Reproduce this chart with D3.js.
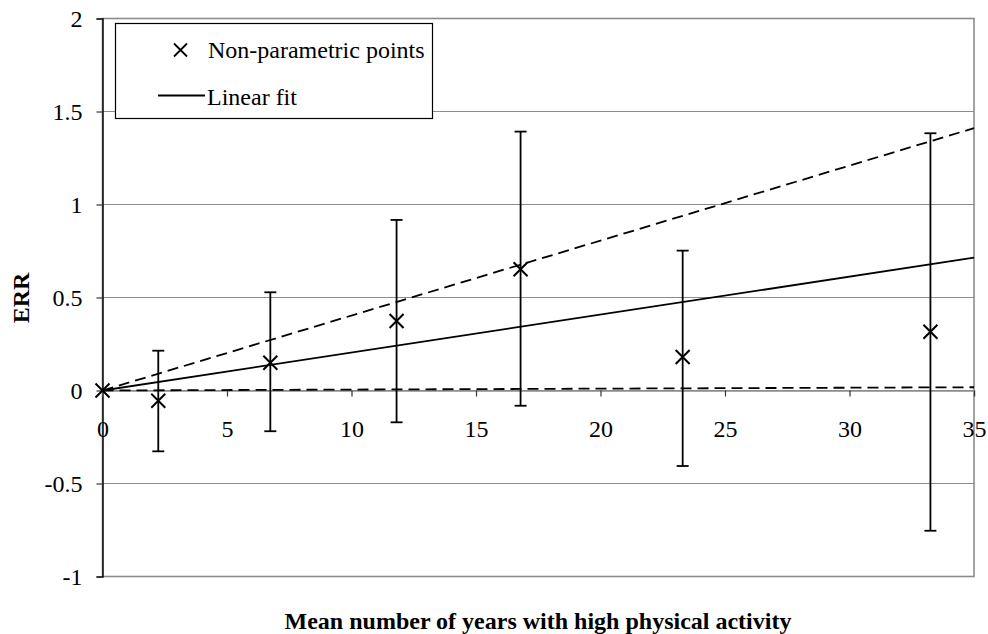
<!DOCTYPE html>
<html>
<head>
<meta charset="utf-8">
<script src="https://cdn.jsdelivr.net/npm/d3@7"></script>
<style>
  body { margin: 0; background: #fff; }
  svg text { font-family: "Liberation Serif", "Times New Roman", serif !important; fill: #000; }
</style>
</head>
<body>
<svg id="chart" width="988" height="634"></svg>
<script>
// Non-parametric ERR estimates with 95% confidence bounds
const years = [0, 2.24, 6.74, 11.81, 16.79, 23.3, 33.25];
const err = [0, -0.055, 0.149, 0.374, 0.652, 0.18, 0.316];
const errUpper = [null, 0.214, 0.528, 0.917, 1.392, 0.752, 1.383];
const errLower = [null, -0.327, -0.219, -0.171, -0.082, -0.406, -0.754];

// Linear fit (ERR = slope * years) with its confidence limits
const fitSlope = 0.0204;
const fitUpperSlope = 0.0403;
const fitLowerSlope = 0.0005;

const xTicks = [0, 5, 10, 15, 20, 25, 30, 35];
const yTicks = [-1, -0.5, 0, 0.5, 1, 1.5, 2];

const svg = d3.select("#chart");
const plotLeft = 102.5, plotRight = 974, plotTop = 18.5, plotBottom = 576.5;
const fontSize = 24;

const x = d3.scaleLinear().domain([0, 35]).range([plotLeft, plotRight]);
const y = d3.scaleLinear().domain([-1, 2]).range([plotBottom, plotTop]);

// Horizontal gridlines
svg.append("g")
  .selectAll("line")
  .data(yTicks)
  .join("line")
  .attr("x1", plotLeft).attr("x2", plotRight)
  .attr("y1", d => y(d)).attr("y2", d => y(d))
  .attr("stroke", "#8c8c8c").attr("stroke-width", 1.2);

// Plot area border
svg.append("rect")
  .attr("x", plotLeft).attr("y", plotTop)
  .attr("width", plotRight - plotLeft).attr("height", plotBottom - plotTop)
  .attr("fill", "none").attr("stroke", "#8c8c8c").attr("stroke-width", 1.6);

// Y axis (left edge)
const yAxis = d3.axisLeft(y).tickValues(yTicks).tickSize(6).tickPadding(14)
  .tickFormat(d => String(d));
const gy = svg.append("g").attr("transform", `translate(${plotLeft},0)`).call(yAxis);
gy.select(".domain").attr("stroke", "#000").attr("stroke-width", 1.4);
gy.selectAll(".tick line").attr("stroke", "#333").attr("stroke-width", 1.2);
gy.selectAll(".tick text").attr("font-size", fontSize);

// X axis crossing at ERR = 0
const xAxis = d3.axisBottom(x).tickValues(xTicks).tickSize(6).tickPadding(23)
  .tickFormat(d => String(d));
const gx = svg.append("g").attr("transform", `translate(0,${y(0)})`).call(xAxis);
gx.select(".domain").attr("stroke", "#8c8c8c").attr("stroke-width", 1.4);
gx.selectAll(".tick line").attr("stroke", "#333").attr("stroke-width", 1.2);
gx.selectAll(".tick text").attr("font-size", fontSize);

// Fitted lines
const fitLine = (slope, dash) => svg.append("line")
  .attr("x1", x(0)).attr("y1", y(0))
  .attr("x2", x(35)).attr("y2", y(slope * 35))
  .attr("stroke", "#000").attr("stroke-width", 1.8)
  .attr("stroke-dasharray", dash);
fitLine(fitUpperSlope, "11,6");
fitLine(fitLowerSlope, "11,6");
fitLine(fitSlope, null);

// Error bars
const bars = years.map((v, i) => ({ x: v, lo: errLower[i], hi: errUpper[i] })).filter(d => d.hi !== null);
const eb = svg.append("g").attr("stroke", "#000").attr("stroke-width", 1.8);
bars.forEach(d => {
  eb.append("line").attr("x1", x(d.x)).attr("x2", x(d.x)).attr("y1", y(d.lo)).attr("y2", y(d.hi));
  [d.lo, d.hi].forEach(v => eb.append("line")
    .attr("x1", x(d.x) - 6).attr("x2", x(d.x) + 6)
    .attr("y1", y(v)).attr("y2", y(v)));
});

// Point markers
const crossPath = s => `M${-s},${-s}L${s},${s}M${-s},${s}L${s},${-s}`;
svg.append("g")
  .selectAll("path")
  .data(years.map((v, i) => [v, err[i]]))
  .join("path")
  .attr("transform", d => `translate(${x(d[0])},${y(d[1])})`)
  .attr("d", crossPath(7))
  .attr("stroke", "#000").attr("stroke-width", 2).attr("fill", "none");

// Legend
const lg = svg.append("g");
lg.append("rect").attr("x", 115.5).attr("y", 23.5).attr("width", 317).attr("height", 95)
  .attr("fill", "#fff").attr("stroke", "#000").attr("stroke-width", 1.2);
lg.append("path").attr("transform", "translate(180.5,50)").attr("d", crossPath(6.5))
  .attr("stroke", "#000").attr("stroke-width", 1.8).attr("fill", "none");
lg.append("text").attr("x", 208).attr("y", 58).attr("font-size", fontSize).text("Non-parametric points");
lg.append("line").attr("x1", 158).attr("x2", 205).attr("y1", 95.5).attr("y2", 95.5)
  .attr("stroke", "#000").attr("stroke-width", 1.8);
lg.append("text").attr("x", 207).attr("y", 105).attr("font-size", fontSize).text("Linear fit");

// Axis titles
svg.append("text")
  .attr("transform", "translate(28.5,298) rotate(-90)")
  .attr("text-anchor", "middle").attr("font-size", fontSize).attr("font-weight", "bold")
  .text("ERR");
svg.append("text")
  .attr("x", 538).attr("y", 629)
  .attr("text-anchor", "middle").attr("font-size", fontSize).attr("font-weight", "bold")
  .text("Mean number of years with high physical activity");
</script>
</body>
</html>
